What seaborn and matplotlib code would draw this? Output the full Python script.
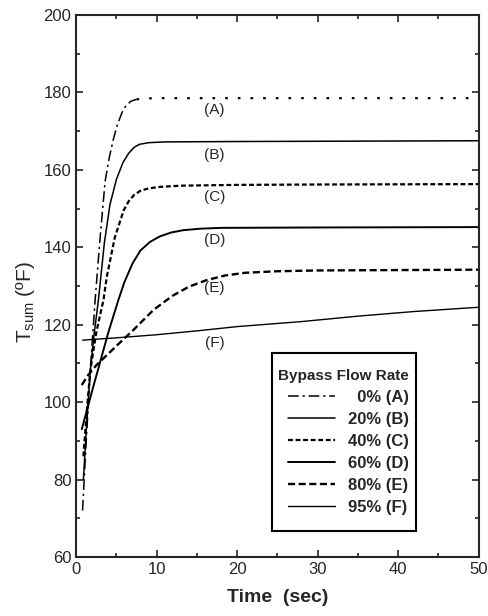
import matplotlib
matplotlib.use("Agg")
import matplotlib.pyplot as plt
from matplotlib.ticker import MultipleLocator
import seaborn as sns
import pandas as pd

sns.set_style("ticks")
plt.rcParams["font.family"] = ["Liberation Sans", "DejaVu Sans"]
plt.rcParams["mathtext.fontset"] = "custom"
plt.rcParams["mathtext.rm"] = "Liberation Sans"

# valeurs (temps en s, T en degF)
t_a = [0.8, 1.2, 1.75, 2.36, 3.0, 3.6, 4.1, 4.6, 5.1, 5.7, 6.2, 6.8, 7.5, 8.5, 10, 20, 35, 50]
T_a = [72, 88, 108, 126.4, 143, 157, 163, 167.7, 171.5, 174.8, 176.6, 177.7, 178.2, 178.4, 178.5, 178.5, 178.5, 178.5]

t_b = [0.9, 1.3, 1.75, 2.2, 2.77, 3.5, 4.2, 5.0, 5.8, 6.5, 7.2, 7.9, 9, 11, 20, 35, 50]
T_b = [80, 94, 108, 117, 126.4, 141, 151, 157.5, 161.8, 164.2, 165.8, 166.6, 167.0, 167.2, 167.3, 167.4, 167.5]

t_c = [0.9, 1.3, 1.75, 2.5, 3.4, 3.8, 4.8, 5.9, 6.5, 7.2, 8.0, 9.0, 10.5, 13, 20, 30, 50]
T_c = [86, 97, 108, 118, 126.4, 132.3, 142.5, 149.5, 151.8, 153.5, 154.6, 155.2, 155.6, 155.9, 156.1, 156.2, 156.3]

t_d = [0.7, 2.0, 3.0, 4.0, 5.25, 6.0, 7.0, 8.0, 9.2, 10.4, 11.8, 13.3, 15.5, 18, 30, 50]
T_d = [93, 103, 110.5, 118, 126.4, 131, 135.8, 139.2, 141.4, 142.8, 143.8, 144.4, 144.8, 145, 145.1, 145.2]

t_e = [0.7, 1.5, 2.5, 3.5, 5.0, 7.1, 9.6, 12, 14, 16.2, 18.5, 21, 25, 30, 50]
T_e = [104.4, 107, 109.5, 111.5, 114.5, 118.6, 123.8, 127.5, 129.8, 131.5, 132.7, 133.4, 133.8, 134, 134.2]

t_f = [0.8, 5, 10, 15, 20, 28, 35, 42, 50]
T_f = [116, 116.6, 117.4, 118.4, 119.5, 120.8, 122.2, 123.4, 124.5]

lettres = ["A", "B", "C", "D", "E", "F"]
pourcents = ["0%", "20%", "40%", "60%", "80%", "95%"]
label_y = [175.4, 163.8, 153.0, 141.8, 129.4, 115.3]

series = [(t_a, T_a), (t_b, T_b), (t_c, T_c), (t_d, T_d), (t_e, T_e), (t_f, T_f)]
styles = [
    dict(dashes=(7, 2.5, 1.5, 2.5), lw=1.1),
    dict(dashes=(), lw=1.1),
    dict(dashes=(2.2, 1.2), lw=1.6),
    dict(dashes=(), lw=1.4),
    dict(dashes=(3, 1.5), lw=1.7),
    dict(dashes=(), lw=1.0),
]

fig = plt.figure(figsize=(4.88, 6.16), dpi=100)
ax = fig.add_axes([0.156, 0.0958, 0.825, 0.88])

for i, ((t, T), lettre, pc, st) in enumerate(zip(series, lettres, pourcents, styles)):
    df = pd.DataFrame({"t": t, "T": T})
    lab = ("  " + pc if len(pc) == 2 else pc) + f" ({lettre})"
    if i == 0:
        # courbe A : montée en tirets-points, palier en pointillés
        montee = df[df["t"] <= 7.5]
        palier = df[df["t"] >= 7.5]
        sns.lineplot(data=montee, x="t", y="T", ax=ax, color="black",
                     linewidth=st["lw"], label=lab)
        ax.get_lines()[-1].set_dashes(st["dashes"])
        sns.lineplot(data=palier, x="t", y="T", ax=ax, color="black",
                     linewidth=1.6, legend=False)
        ax.get_lines()[-1].set_dashes((1.2, 4.5))
        continue
    sns.lineplot(data=df, x="t", y="T", ax=ax, color="black",
                 linewidth=st["lw"], label=lab)
    if st["dashes"]:
        ax.get_lines()[-1].set_dashes(st["dashes"])

# étiquettes (A) ... (F)
for lettre, y in zip(lettres, label_y):
    ax.text(17.2, y, f"({lettre})", ha="center", va="center", fontsize=11)

ax.set_xlim(0, 50)
ax.set_ylim(60, 200)
ax.xaxis.set_major_locator(MultipleLocator(10))
ax.xaxis.set_minor_locator(MultipleLocator(5))
ax.yaxis.set_major_locator(MultipleLocator(20))
ax.yaxis.set_minor_locator(MultipleLocator(10))
ax.tick_params(which="both", direction="in", top=True, right=True, width=1.2)
ax.tick_params(which="major", length=5, labelsize=12)
ax.tick_params(which="minor", length=3)
for s in ax.spines.values():
    s.set_linewidth(1.5)

ax.set_xlabel("Time  (sec)", fontsize=14, fontweight="bold", labelpad=9)
ax.set_ylabel(r"T$_{\mathrm{sum}}$ (ºF)", fontsize=15)
ax.yaxis.set_label_coords(-0.097, 0.47)

leg = ax.legend(title="Bypass Flow Rate", loc="lower left",
                bbox_to_anchor=(0.466, 0.033, 0.398, 0.353), mode="expand",
                frameon=True, fancybox=False, edgecolor="black",
                handlelength=2.8, labelspacing=0.42, borderpad=0.95,
                prop={"weight": "bold", "size": 12})
leg.get_title().set_fontweight("bold")
leg.get_title().set_fontsize(11)
leg.get_frame().set_linewidth(1.5)
leg.get_frame().set_alpha(1)

fig.savefig("out.png", dpi=100)
